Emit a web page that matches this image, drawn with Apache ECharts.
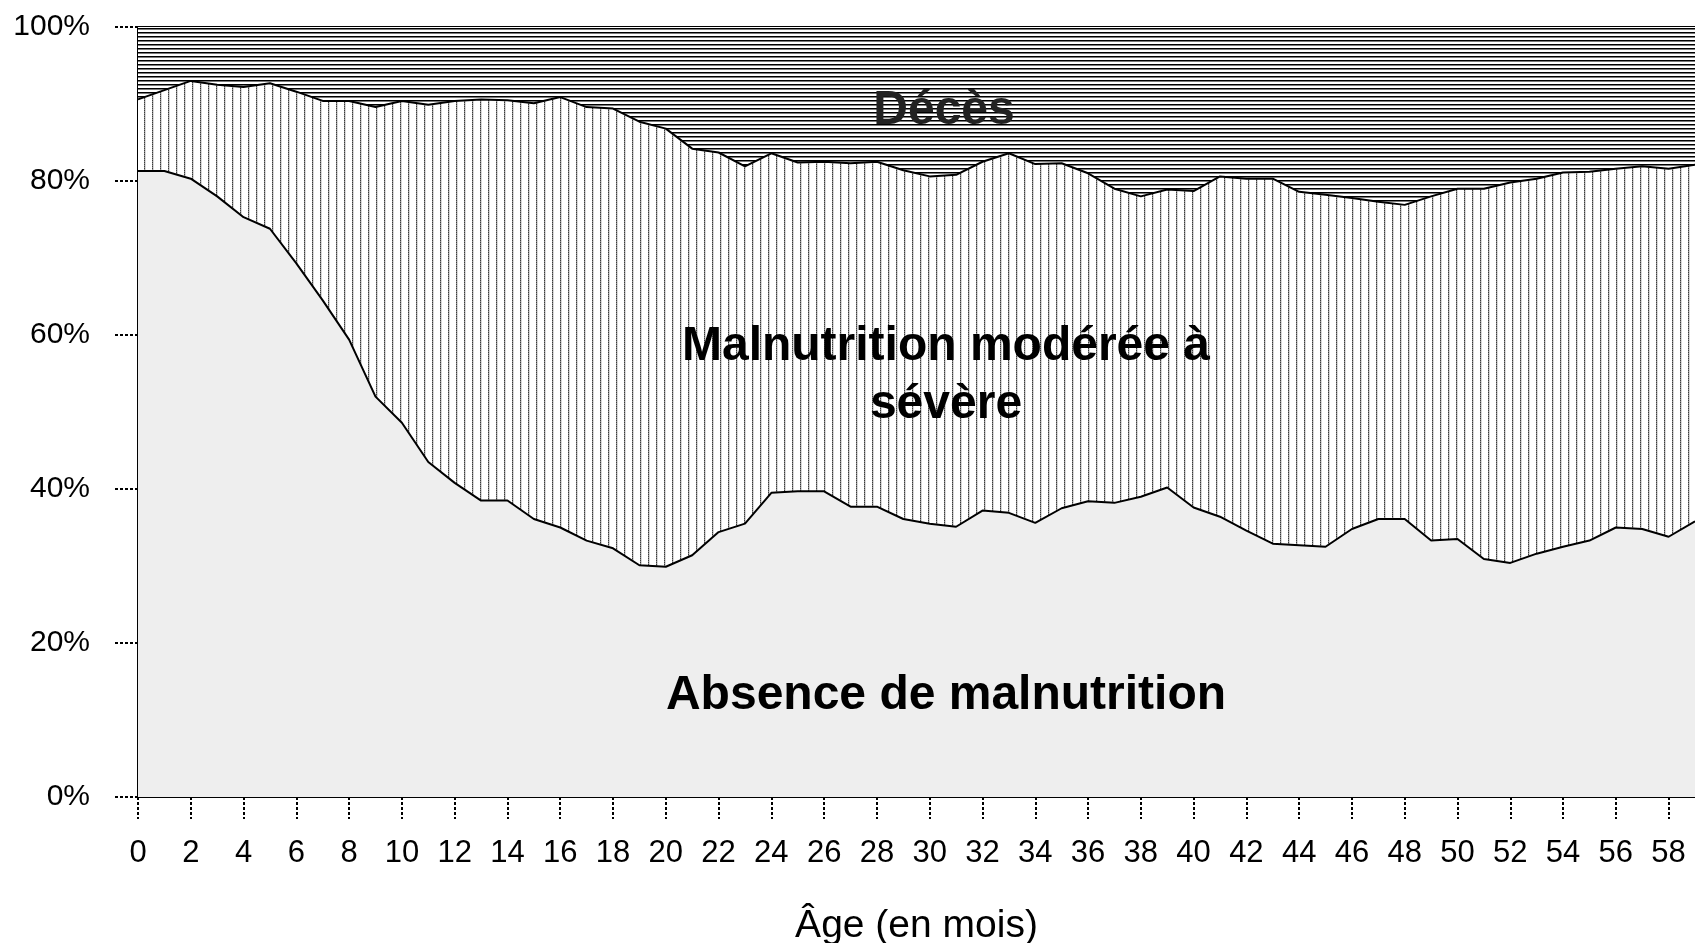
<!DOCTYPE html>
<html>
<head>
<meta charset="utf-8">
<title>Âge (en mois)</title>
<script src="https://cdn.jsdelivr.net/npm/echarts@6/dist/echarts.min.js"></script>
<style>
  html, body { margin: 0; padding: 0; background: #fff; }
  #chart { width: 1695px; height: 943px; }
</style>
</head>
<body>
<div id="chart"></div>
<script>
// age in months
let months = [];
for (let m = 0; m <= 59; m++) months.push(String(m));

// % of children with no malnutrition
let absence = [
  81.3, 81.3, 80.3, 78.0, 75.3, 73.8, 69.3, 64.5, 59.4, 52.0,
  48.6, 43.5, 40.8, 38.5, 38.5, 36.1, 35.0, 33.3, 32.3, 30.1,
  29.9, 31.4, 34.4, 35.5, 39.5, 39.7, 39.7, 37.7, 37.7, 36.1,
  35.5, 35.1, 37.2, 36.9, 35.6, 37.5, 38.4, 38.2, 39.0, 40.2,
  37.6, 36.4, 34.6, 32.9, 32.7, 32.5, 34.8, 36.1, 36.1, 33.3,
  33.5, 30.9, 30.4, 31.6, 32.5, 33.3, 35.0, 34.8, 33.8, 35.8
];

// cumulated % (absence + moderate/severe malnutrition), the rest is deaths
let cumulated = [
  90.6, 91.8, 93.0, 92.5, 92.2, 92.7, 91.6, 90.4, 90.4, 89.6,
  90.4, 89.9, 90.4, 90.6, 90.5, 90.1, 90.9, 89.6, 89.4, 87.7,
  86.8, 84.2, 83.7, 81.9, 83.6, 82.4, 82.5, 82.3, 82.5, 81.4,
  80.6, 80.8, 82.5, 83.6, 82.2, 82.3, 81.0, 79.0, 78.0, 78.9,
  78.7, 80.6, 80.3, 80.3, 78.6, 78.2, 77.8, 77.3, 76.9, 78.0,
  79.0, 79.0, 79.8, 80.3, 81.1, 81.2, 81.6, 81.9, 81.6, 82.1
];

let yTicks = [0, 20, 40, 60, 80, 100];

let malnutrition = cumulated.map((v, i) => +(v - absence[i]).toFixed(1));
let deces = cumulated.map(v => +(100 - v).toFixed(1));

const FONT = "'Liberation Sans', Arial, sans-serif";

function hatch(w, h, draw) {
  let c = document.createElement('canvas');
  c.width = w;
  c.height = h;
  let ctx = c.getContext('2d');
  ctx.fillStyle = '#ffffff';
  ctx.fillRect(0, 0, w, h);
  draw(ctx);
  return c;
}

// vertical grey dotted lines
let vertical = hatch(8, 2, ctx => {
  ctx.fillStyle = '#3c3c3c';
  ctx.fillRect(0, 0, 1, 1);
  ctx.fillStyle = '#8c8c8c';
  ctx.fillRect(0, 1, 1, 1);
  ctx.fillStyle = '#d8d8d8';
  ctx.fillRect(1, 0, 1, 2);
});

// horizontal black lines
let horizontal = hatch(2, 4, ctx => {
  ctx.fillStyle = '#000000';
  ctx.fillRect(0, 0, 2, 1);
  ctx.fillStyle = '#7a7a7a';
  ctx.fillRect(0, 1, 2, 1);
});

let chart = echarts.init(document.getElementById('chart'));

let option = {
  animation: false,
  grid: { left: 138, right: 0, top: 27, bottom: 146, outerBoundsMode: 'none', containLabel: false },
  xAxis: [{
    type: 'category',
    data: months,
    boundaryGap: false,
    name: 'Âge (en mois)',
    nameLocation: 'middle',
    nameGap: 110,
    nameTextStyle: { fontFamily: FONT, fontSize: 39, color: '#000' },
    axisLine: { lineStyle: { color: '#000', width: 2 } },
    axisTick: { interval: 1, length: 22, lineStyle: { color: '#000', width: 2, type: [3, 2] } },
    axisLabel: {
      interval: 1,
      margin: 41,
      fontFamily: FONT,
      fontSize: 31,
      color: '#000'
    },
    splitLine: { show: false }
  }, {
    type: 'category',
    data: months,
    boundaryGap: false,
    position: 'top',
    axisLine: { show: true, lineStyle: { color: '#000', width: 2 } },
    axisTick: { show: false },
    axisLabel: { show: false },
    splitLine: { show: false }
  }],
  yAxis: {
    type: 'value',
    min: yTicks[0],
    max: yTicks[yTicks.length - 1],
    interval: 20,
    axisLine: { show: true, lineStyle: { color: '#000', width: 2 } },
    axisTick: { show: true, length: 24, lineStyle: { color: '#000', width: 2, type: [3, 2] } },
    axisLabel: {
      margin: 48,
      fontFamily: FONT,
      fontSize: 30,
      color: '#000',
      formatter: '{value}%'
    },
    splitLine: { show: false }
  },
  series: [{
    name: 'Absence de malnutrition',
    type: 'line',
    stack: 'total',
    symbol: 'none',
    data: absence,
    lineStyle: { color: '#000', width: 2 },
    areaStyle: { color: '#eeeeee', opacity: 1 },
    z: 3
  }, {
    name: 'Malnutrition modérée à sévère',
    type: 'line',
    stack: 'total',
    symbol: 'none',
    data: malnutrition,
    lineStyle: { color: '#000', width: 2 },
    areaStyle: { color: { image: vertical, repeat: 'repeat' }, opacity: 1 },
    z: 2
  }, {
    name: 'Décès',
    type: 'line',
    stack: 'total',
    symbol: 'none',
    data: deces,
    lineStyle: { width: 0 },
    areaStyle: { color: { image: horizontal, repeat: 'repeat' }, opacity: 1 },
    z: 1
  }],
  graphic: [{
    type: 'text',
    x: 944, y: 111,
    style: { text: 'Décès', fontFamily: FONT, fontWeight: 'bold', fontSize: 48, fill: '#222', align: 'center', verticalAlign: 'middle' },
    z: 10
  }, {
    type: 'text',
    x: 946, y: 347,
    style: { text: 'Malnutrition modérée à', fontFamily: FONT, fontWeight: 'bold', fontSize: 48, fill: '#000', align: 'center', verticalAlign: 'middle' },
    z: 10
  }, {
    type: 'text',
    x: 946, y: 405,
    style: { text: 'sévère', fontFamily: FONT, fontWeight: 'bold', fontSize: 48, fill: '#000', align: 'center', verticalAlign: 'middle' },
    z: 10
  }, {
    type: 'text',
    x: 946, y: 696,
    style: { text: 'Absence de malnutrition', fontFamily: FONT, fontWeight: 'bold', fontSize: 48, fill: '#000', align: 'center', verticalAlign: 'middle' },
    z: 10
  }]
};

chart.setOption(option);
</script>
</body>
</html>
